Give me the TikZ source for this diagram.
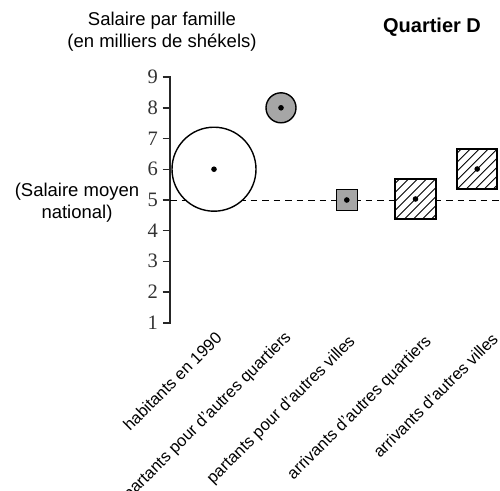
\documentclass[tikz,border=0pt]{standalone}
\usepackage{fontspec}
\setmainfont{Liberation Sans}
\newfontfamily\numfont{Liberation Serif}
\begin{document}
\begin{tikzpicture}[x=1pt,y=-1pt,
  titletext/.style={inner sep=0pt,align=center,font=\fontsize{18.5}{22}\selectfont},
  cattext/.style={inner sep=0pt,rotate=45,anchor=base east,font=\fontsize{16.5}{19}\selectfont},
  numtext/.style={inner sep=0pt,anchor=east,text=black!80,font=\numfont\fontsize{20.5}{21}\selectfont},
  marker/.style={draw=black,line width=1.4pt,inner sep=0pt},
  graymark/.style={marker,fill=black!35},
  centerdot/.style={circle,fill=black,inner sep=0pt,minimum size=5.6pt},
  hatchline/.style={line width=0.8pt}
]
\useasboundingbox (0,0) rectangle (500,490);
% titles
\node[titletext] (ytitle) at (162,32) {Salaire par famille\\(en milliers de shékels)};
\node[titletext,font=\bfseries\fontsize{20}{22}\selectfont] (qtitle) at (432,27) {Quartier D};
\node[titletext] (moyen) at (77,203) {(Salaire moyen\\national)};
% axis
\coordinate (atop) at (162.5,77);
\coordinate (abot) at (162.5,322.7);
\draw[line width=1.7pt,black!85] (atop) -- (169.8,77) -- (169.8,322.7) -- (abot);
\foreach \v in {2,...,8}{
  \draw[line width=1.4pt,black!85] (162.5,{322.7-(\v-1)*30.7}) -- (169.8,{322.7-(\v-1)*30.7});
}
\foreach \v in {1,...,9}{
  \node[numtext] (n\v) at (158,{322.7-(\v-1)*30.7}) {\v};
}
% dashed reference line
\coordinate (dstart) at (170,200);
\coordinate (dend) at (500,200);
\draw[line width=1pt,dash pattern=on 6.5pt off 5pt] (dstart) -- (dend);
% markers
\node[marker,circle,fill=white,minimum size=84pt] (hab) at (214,169.2) {};
\node[graymark,circle,minimum size=30pt] (pq) at (281,107.8) {};
\node[graymark,rectangle,minimum size=21pt] (pv) at (346.8,200) {};
\node[marker,rectangle,fill=white,minimum size=39.5pt] (aq) at (415.5,199) {};
\node[marker,rectangle,fill=white,minimum size=39pt] (av) at (477.2,169) {};
% hatching
\foreach \nm in {aq,av}{
  \begin{scope}
    \clip (\nm.south west) rectangle (\nm.north east);
    \foreach \d in {-36,-27,...,36}{
      \draw[hatchline] ([xshift=\d pt]\nm.center) ++(-25,25) -- ++(50,-50);
    }
  \end{scope}
  \draw[line width=1.4pt] (\nm.south west) rectangle (\nm.north east);
}
% center dots
\foreach \nm in {hab,pq,pv,aq,av}{
  \node[centerdot] (\nm-dot) at (\nm.center) {};
}
% category labels
\node[cattext] (l1) at (223,339) {habitants en 1990};
\node[cattext] (l2) at (292,338) {partants pour d'autres quartiers};
\node[cattext] (l3) at (356,342) {partants pour d'autres villes};
\node[cattext] (l4) at (432,342) {arrivants d'autres quartiers};
\node[cattext] (l5) at (499,340) {arrivants d'autres villes};
\end{tikzpicture}
\end{document}
